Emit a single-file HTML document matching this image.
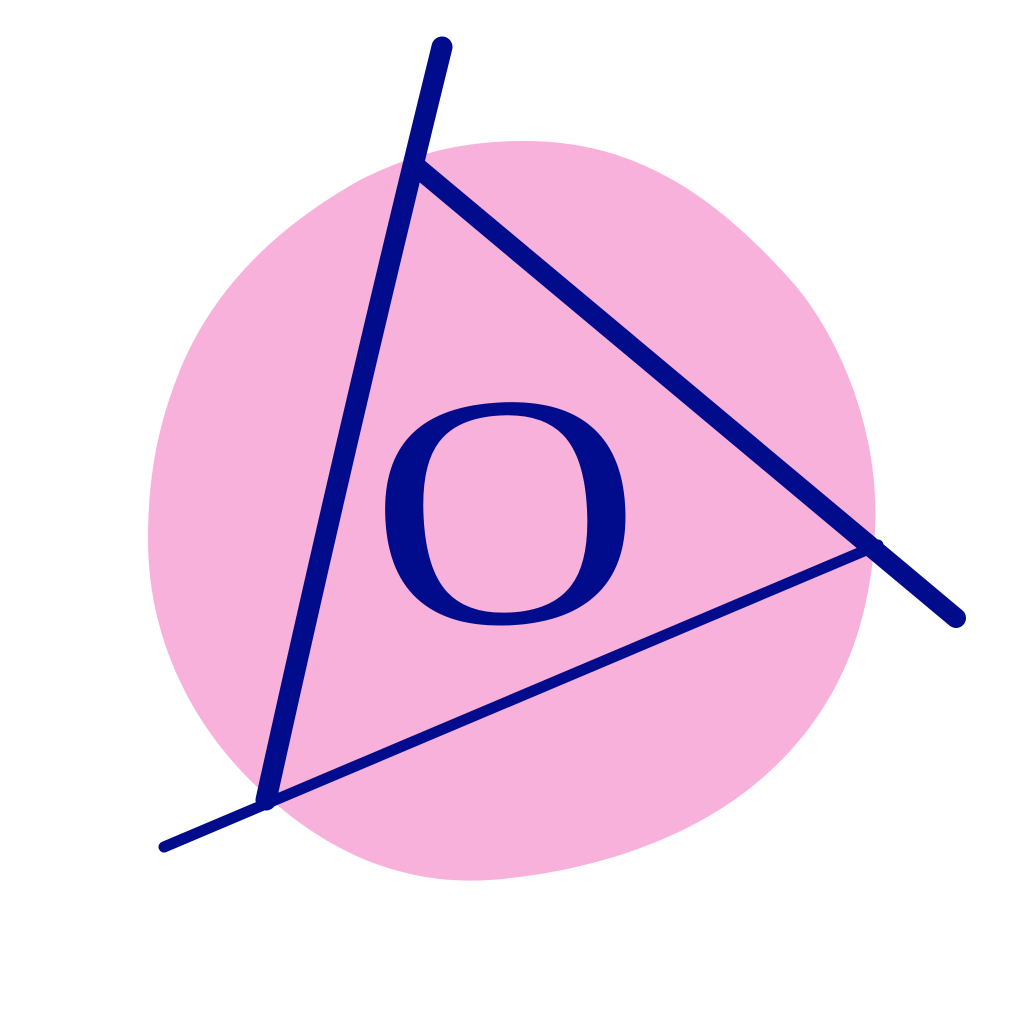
<!DOCTYPE html>
<html>
<head>
<meta charset="utf-8">
<style>
  html,body{margin:0;padding:0;background:#fff;}
  svg{display:block;}
</style>
</head>
<body>
<svg width="1024" height="1024" viewBox="0 0 1024 1024" xmlns="http://www.w3.org/2000/svg">
  <path fill="#F8B1DB"
    d="M525,141 C640,141 720,200 795,285 C845,345 880,440 875,530 C870,640 830,720 760,780 C690,840 590,872 490,880 C400,886 320,850 250,780 C185,715 148,630 148,540 C148,470 160,420 180,370 C215,285 280,225 360,180 C420,150 470,141 525,141 Z"/>
  <path fill="none" stroke="#000C8C" stroke-width="21" stroke-linecap="round"
    d="M442,47 Q350,420 266,800"/>
  <line stroke="#000C8C" stroke-width="20" stroke-linecap="round"
    x1="418" y1="168" x2="956" y2="618"/>
  <line stroke="#000C8C" stroke-width="11" stroke-linecap="round"
    x1="878" y1="545" x2="164" y2="847"/>
  <text x="0" y="0" text-anchor="middle"
    font-family="'Liberation Serif', serif" font-size="332" fill="#000C8C"
    transform="translate(511,622) rotate(-3) scale(1.13,1)">O</text>
</svg>
</body>
</html>
